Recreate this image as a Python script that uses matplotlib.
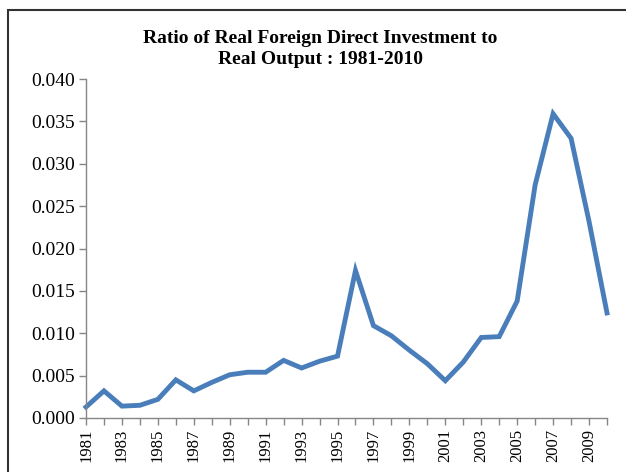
import matplotlib
matplotlib.use('Agg')
from matplotlib import pyplot as plt
from matplotlib.patches import Rectangle

years = list(range(1981, 2011))
ratio = [0.0013, 0.0032, 0.0014, 0.0015, 0.0022, 0.0045, 0.0032, 0.0042, 0.0051, 0.0054,
         0.0054, 0.0068, 0.0059, 0.0067, 0.0073, 0.0174, 0.0109, 0.0097, 0.0080, 0.0064,
         0.0044, 0.0066, 0.0095, 0.0096, 0.0138, 0.0275, 0.0359, 0.0330, 0.0232, 0.0124]
yticks = [0.000, 0.005, 0.010, 0.015, 0.020, 0.025, 0.030, 0.035, 0.040]
title = 'Ratio of Real Foreign Direct Investment to\nReal Output : 1981-2010'

plt.rcParams['font.family'] = ['Liberation Serif', 'DejaVu Serif']

fig = plt.figure(figsize=(6.26, 4.72), dpi=100)
ax = fig.add_axes([86/626, 1 - 418/472, (607-86)/626, (418-79)/472])

ax.plot(years, ratio, color='#4A7EBB', lw=3.5, solid_joinstyle='miter', clip_on=False)

ax.set_xlim(years[0], years[-1])
ax.set_ylim(0, 0.040)
ax.set_yticks(yticks)
ax.set_yticklabels(['%.3f' % v for v in yticks], fontsize=14)
ax.set_xticks(years)
ax.set_xticklabels([str(y) if (y - 1981) % 2 == 0 else '' for y in years],
                   rotation=90, fontsize=12)

for s in ['top', 'right']:
    ax.spines[s].set_visible(False)
for s in ['left', 'bottom']:
    ax.spines[s].set_color('#868686')
    ax.spines[s].set_linewidth(1)
ax.tick_params(axis='both', color='#868686', length=5, width=1, pad=3)

fig.text(320/626, 1 - 49/472, title, ha='center', va='center',
         fontsize=14, fontweight='bold', linespacing=1.25)

# outer frame of the chart area
fig.patches.append(Rectangle((8/626, -0.1), 1.2, 1 - 10/472 + 0.1, transform=fig.transFigure,
                             fill=False, edgecolor='#333333', lw=1.5))

fig.savefig('out.png', dpi=100)
